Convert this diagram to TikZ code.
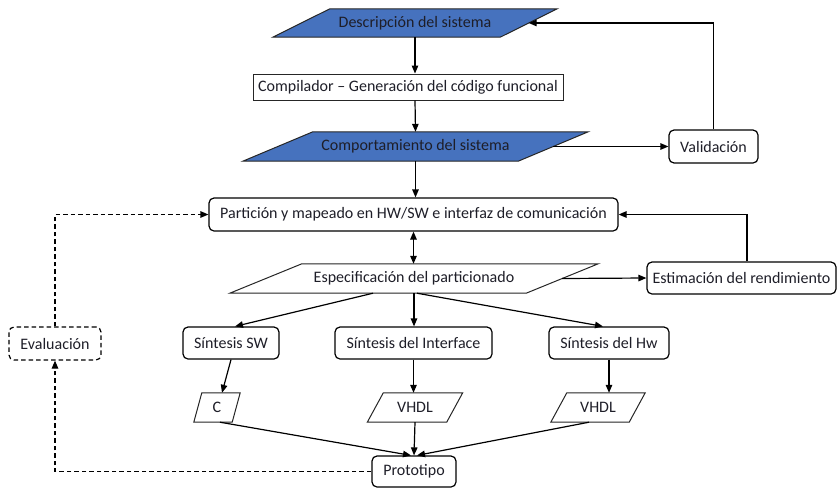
\documentclass[tikz,border=0pt]{standalone}
\usepackage{fontspec}
\setmainfont{Carlito}
\usetikzlibrary{arrows.meta,calc,backgrounds}
\definecolor{sysblue}{HTML}{4672BE}
\definecolor{ink}{HTML}{1E1E28}

% Parallelogram drawn around a named node: #1 node, #2 horizontal slant, #3 style
\newcommand{\slantbox}[3]{%
  \draw[#3] ($(#1.north west)+(#2/2,0)$) -- ($(#1.north east)+(#2/2,0)$)
    -- ($(#1.south east)+(-#2/2,0)$) -- ($(#1.south west)+(-#2/2,0)$) -- cycle;}

\begin{document}
\begin{tikzpicture}[x=1pt,y=-1pt,
  font=\fontsize{16}{19}\selectfont,
  box/.style={draw, line width=1.2pt, inner sep=0pt, text=ink},
  rbox/.style={box, rounded corners=5pt},
  slant/.style={inner sep=0pt, text=ink},
  shapeline/.style={draw=black!85, line width=1pt},
  conn/.style={line width=1.2pt, -{Triangle[length=8pt,width=6.5pt]}},
  dbl/.style={line width=1.2pt, {Triangle[length=8pt,width=6.5pt]}-{Triangle[length=8pt,width=6.5pt]}},
  dashpat/.style={dash pattern=on 4.5pt off 3pt},
  dconn/.style={conn, dashpat},
]
\useasboundingbox (0,0) rectangle (838,488);

% design flow steps
\node[slant, minimum width=227pt, minimum height=28pt] (desc) at (415,23) {Descripción del sistema};
\node[box, line width=1pt, draw=black!85, minimum width=310pt, minimum height=26pt] (comp) at (408,87) {Compilador – Generación del código funcional};
\node[slant, minimum width=275pt, minimum height=29pt] (behav) at (415.5,146.5) {Comportamiento del sistema};
\node[rbox, minimum width=89pt, minimum height=33pt] (valid) at (713.5,146.5) {Validación};
\node[rbox, minimum width=409pt, minimum height=33pt] (part) at (413.5,214.5) {Partición y mapeado en HW/SW e interfaz de comunicación};
\node[slant, minimum width=296pt, minimum height=29pt] (spec) at (414,278.5) {Especificación del particionado};
\node[rbox, minimum width=189pt, minimum height=32pt] (perf) at (741.5,278) {Estimación del rendimiento};
\node[rbox, minimum width=96pt, minimum height=32pt] (sw) at (231,343) {Síntesis SW};
\node[rbox, minimum width=157pt, minimum height=32pt] (iface) at (413.5,343) {Síntesis del Interface};
\node[rbox, minimum width=120pt, minimum height=32pt] (hw) at (609,343) {Síntesis del Hw};
\node[rbox, dashpat, minimum width=92pt, minimum height=33pt] (eval) at (55,343.5) {Evaluación};
\node[slant, minimum width=38pt, minimum height=29pt] (c) at (217,407.5) {C};
\node[slant, minimum width=79pt, minimum height=29pt] (vhdlI) at (415,407.5) {VHDL};
\node[slant, minimum width=78pt, minimum height=29pt] (vhdlH) at (598,407.5) {VHDL};
\node[rbox, minimum width=84pt, minimum height=31pt] (proto) at (414,471.5) {Prototipo};

% parallelogram outlines behind the texts
\begin{pgfonlayer}{background}
  \slantbox{desc}{57}{shapeline, fill=sysblue}
  \slantbox{behav}{70}{shapeline, fill=sysblue}
  \slantbox{spec}{72}{shapeline, fill=white}
  \slantbox{c}{8}{shapeline, fill=white}
  \slantbox{vhdlI}{16}{shapeline, fill=white}
  \slantbox{vhdlH}{16}{shapeline, fill=white}
\end{pgfonlayer}

% connectors
\draw[conn] (desc.south) -- (desc.south |- comp.north);
\draw[conn] (desc.south |- comp.south) -- (behav.north);
\draw[conn] (behav.south) -- (behav.south |- part.north);
\draw[conn] (behav.east) -- (valid.west);
\draw[conn] (valid.north) |- (desc.east);
\draw[dbl] (part.south) -- (part.south |- spec.north);
\draw[conn] (spec.east) -- (perf.west);
\draw[conn] ($(perf.north)+(5.5,0)$) |- (part.east);
\draw[conn] ($(spec.south)+(-41,0)$) -- ($(sw.north)+(4,0)$);
\draw[conn] (spec.south) -- (spec.south |- iface.north);
\draw[conn] ($(spec.south)+(3,0)$) -- ($(hw.north)+(-6,0)$);
\draw[conn] (sw.south) -- ($(c.north)+(5,0)$);
\draw[conn] (iface.south) -- (iface.south |- vhdlI.north);
\draw[conn] (hw.south) -- (hw.south |- vhdlH.north);
\draw[conn] ($(c.south)+(3,0)$) -- ($(proto.north)+(-3,0)$);
\draw[conn] (vhdlI.south) -- (proto.north);
\draw[conn] ($(vhdlH.south)+(-9,0)$) -- ($(proto.north)+(3,0)$);
\draw[dconn] (eval.north) |- (part.west);
\draw[dconn] (proto.west) -| (eval.south);
\end{tikzpicture}
\end{document}
